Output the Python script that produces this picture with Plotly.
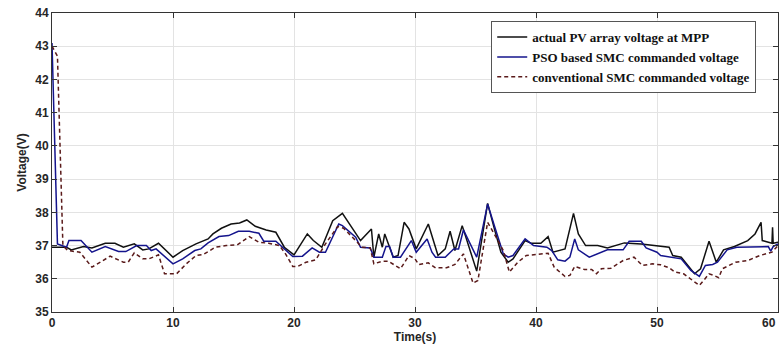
import plotly.graph_objects as go

# Actual PV array voltage at MPP
t_actual = [0, 1.2, 1.6, 2.6, 3.3, 4.4, 5.2, 5.9, 6.8, 7.5, 8.0, 8.8, 10.0, 10.8, 11.9, 12.5, 12.9,
            13.3, 14.0, 14.8, 15.5, 16.1, 16.8, 17.7, 18.5, 19.2, 20.0, 21.1, 21.6, 22.3, 23.2, 24.0,
            25.1, 25.5, 26.4, 26.6, 27.0, 27.3, 27.5, 28.2, 28.6, 29.1, 29.5, 30.1, 31.1, 31.9, 32.5,
            32.9, 33.3, 33.9, 35.1, 36.0, 36.6, 37.1, 37.7, 38.1, 39.1, 39.6, 40.4, 41.0, 41.4, 42.4,
            43.1, 43.5, 44.1, 45.1, 45.9, 47.3, 48.7, 50.3, 51.0, 51.3, 52.0, 53.1, 53.6, 54.3, 54.9,
            55.5, 56.4, 57.5, 58.1, 58.6, 58.7, 59.5, 59.55, 59.6, 60.0]
v_actual = [36.95, 36.95, 36.87, 36.97, 36.93, 37.07, 37.07, 36.95, 37.05, 36.87, 36.9, 37.07, 36.65,
            36.85, 37.05, 37.15, 37.2, 37.35, 37.52, 37.65, 37.68, 37.77, 37.58, 37.47, 37.4, 36.95,
            36.72, 37.35, 37.15, 36.95, 37.75, 37.97, 37.35, 37.15, 37.5, 36.65, 37.35, 36.95, 37.35,
            36.65, 36.7, 37.7, 37.5, 36.9, 37.65, 36.7, 36.9, 37.43, 36.85, 37.6, 36.23, 38.27, 37.45,
            36.8, 36.5, 36.6, 37.15, 37.07, 37.07, 37.27, 36.8, 36.9, 37.97, 37.35, 37.0, 37.0, 36.93,
            37.08, 37.05, 36.97, 36.95, 36.7, 36.65, 36.15, 36.3, 37.13, 36.5, 36.87, 36.97, 37.15,
            37.35, 37.7, 37.15, 37.07, 37.55, 37.07, 37.1]

# PSO based SMC commanded voltage
t_pso = [0, 0.45, 1.2, 1.4, 2.4, 3.3, 4.4, 5.5, 6.1, 7.0, 7.8, 8.2, 8.6, 10.0, 10.8, 11.8, 12.3, 12.9,
         13.8, 14.6, 15.4, 16.3, 17.1, 17.5, 18.5, 19.3, 19.9, 20.7, 21.5, 22.1, 22.6, 23.7, 24.0,
         25.1, 25.5, 26.3, 26.6, 27.3, 27.6, 27.9, 28.2, 28.8, 29.7, 30.1, 31.0, 31.4, 31.7, 32.5,
         33.2, 33.6, 34.0, 35.1, 36.0, 36.6, 37.3, 37.7, 38.1, 39.1, 39.8, 40.9, 41.3, 41.8, 42.4,
         42.8, 43.2, 43.5, 44.4, 45.9, 47.2, 47.7, 48.7, 49.1, 50.0, 50.3, 51.1, 52.0, 52.8, 53.5,
         54.0, 54.6, 55.0, 55.8, 56.6, 58.5, 59.2, 59.4, 59.6, 60.0]
v_pso = [43.1, 37.05, 36.95, 37.15, 37.15, 36.8, 36.97, 36.82, 36.82, 37.0, 37.0, 36.85, 36.9, 36.45,
         36.6, 36.85, 36.9, 37.08, 37.27, 37.3, 37.43, 37.43, 37.37, 37.13, 37.13, 36.85, 36.67,
         36.68, 36.93, 36.8, 36.8, 37.65, 37.6, 37.25, 36.95, 36.93, 36.65, 36.65, 36.97, 36.97,
         36.65, 36.65, 37.15, 36.8, 37.2, 36.8, 36.65, 36.65, 36.9, 36.9, 37.47, 36.65, 38.25,
         37.55, 36.75, 36.65, 36.7, 37.2, 37.0, 36.95, 36.85, 36.57, 36.53, 36.65, 37.2, 36.87,
         36.65, 36.87, 36.87, 37.13, 37.13, 36.93, 36.8, 36.7, 36.65, 36.6, 36.25, 36.07, 36.4,
         36.43, 36.5, 36.87, 36.95, 36.97, 36.97, 36.83, 36.97, 37.05]

# Conventional SMC commanded voltage
t_conv = [0, 0.45, 0.9, 1.3, 2.3, 3.3, 4.0, 4.8, 5.9, 6.3, 6.8, 7.5, 8.0, 8.8, 9.3, 10.3, 11.1, 11.9,
          12.5, 13.5, 14.4, 15.3, 16.3, 17.1, 17.9, 18.8, 19.3, 19.9, 20.3, 21.0, 21.8, 22.6, 23.6,
          24.1, 25.1, 25.6, 26.3, 26.6, 27.3, 27.8, 28.8, 29.5, 30.0, 30.3, 31.1, 31.7, 32.6, 33.3,
          34.0, 34.8, 35.2, 36.0, 36.7, 37.3, 37.8, 38.5, 39.2, 40.4, 41.0, 41.5, 42.4, 42.8, 43.2,
          44.0, 44.6, 45.0, 45.4, 46.2, 47.2, 48.1, 48.8, 49.6, 50.3, 51.0, 51.5, 52.2, 53.5, 53.9,
          54.3, 54.7, 55.1, 55.4, 56.5, 57.5, 58.5, 59.5, 60.0]
v_conv = [43.0, 42.7, 37.0, 36.85, 36.8, 36.35, 36.5, 36.68, 36.5, 36.5, 36.78, 36.6, 36.6, 36.72,
          36.15, 36.15, 36.45, 36.7, 36.73, 36.95, 37.0, 37.02, 37.27, 37.1, 37.07, 37.0, 36.75,
          36.37, 36.37, 36.5, 36.57, 37.05, 37.57, 37.52, 37.15, 36.95, 36.93, 36.45, 36.53, 36.53,
          36.3, 36.7, 36.6, 36.43, 36.48, 36.33, 36.33, 36.43, 36.75, 35.87, 35.95, 37.7, 37.25,
          36.85, 36.2, 36.5, 36.7, 36.75, 36.77, 36.35, 36.07, 36.1, 36.37, 36.28, 36.28, 36.15,
          36.3, 36.32, 36.55, 36.65, 36.4, 36.45, 36.42, 36.33, 36.2, 36.15, 35.8, 35.97, 36.15,
          36.1, 36.03, 36.3, 36.5, 36.55, 36.7, 36.8, 37.0]

names = ["actual PV array voltage at MPP", "PSO based SMC commanded voltage",
         "conventional SMC commanded voltage"]

x_tickvals = [0, 10, 20, 30, 40, 50, 60]
x_ticktext = ["0", "10", "20", "30", "40", "50", ""]   # last label drawn right-aligned below
x_last_label = "60"

fig = go.Figure()
fig.add_trace(go.Scatter(x=t_actual, y=v_actual, mode="lines", name=names[0],
                         line=dict(color="#111111", width=1.5)))
fig.add_trace(go.Scatter(x=t_pso, y=v_pso, mode="lines", name=names[1],
                         line=dict(color="#14148c", width=1.5)))
fig.add_trace(go.Scatter(x=t_conv, y=v_conv, mode="lines", name=names[2],
                         line=dict(color="#5a1a1a", width=1.5, dash="4px,3px")))

tickfont = dict(family="Liberation Sans", size=12, color="#262626", weight="bold")
titlefont = dict(family="Liberation Sans", size=12, color="#262626", weight="bold")
axis_common = dict(showline=True, linecolor="#333333", linewidth=1, mirror="ticks",
                   ticks="inside", ticklen=5, tickcolor="#333333", showgrid=True,
                   gridcolor="#e3e3e3", gridwidth=1, zeroline=False, tickfont=tickfont,
                   automargin=False, ticklabeloverflow="allow")

fig.add_annotation(x=x_tickvals[-1], xref="x", y=0, yref="paper", text=x_last_label,
                   showarrow=False, xanchor="right", yanchor="top", yshift=-2,
                   font=tickfont)

fig.update_layout(
    width=781, height=349,
    margin=dict(l=52, r=3, t=13, b=37),
    paper_bgcolor="white", plot_bgcolor="white",
    showlegend=True,
    legend=dict(x=0.97, y=0.973, xanchor="right", yanchor="top",
                bgcolor="white", bordercolor="#555555", borderwidth=1,
                font=dict(family="Liberation Serif", size=13, color="#111111", weight="bold"),
                itemwidth=30, tracegroupgap=0),
    xaxis=dict(range=[0, 60], tickvals=x_tickvals, ticktext=x_ticktext,
               title=dict(text="Time(s)", font=titlefont, standoff=0),
               **axis_common),
    yaxis=dict(range=[35, 44], dtick=1,
               title=dict(text="Voltage(V)", font=titlefont, standoff=6),
               **axis_common),
)

fig.write_html("out.html", config={"displayModeBar": False},
               post_script="document.body.style.margin='0';document.body.style.padding='0';")
